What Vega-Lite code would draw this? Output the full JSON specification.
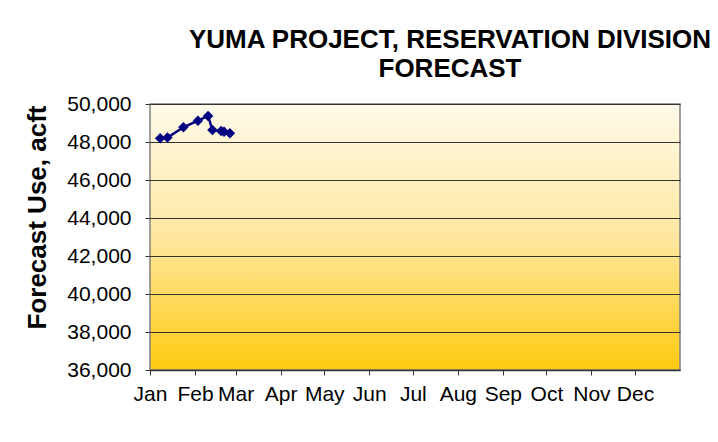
{
  "$schema": "https://vega.github.io/schema/vega-lite/v6.json",
  "autosize": "none",
  "width": 530,
  "height": 266,
  "padding": {"left": 150, "top": 104, "right": 38, "bottom": 72},
  "background": "white",
  "title": {
    "text": ["YUMA PROJECT, RESERVATION DIVISION", "FORECAST"],
    "font": "Liberation Sans",
    "fontSize": 26,
    "fontWeight": "bold",
    "color": "black",
    "anchor": "middle",
    "dx": 35,
    "lineHeight": 29,
    "offset": 11
  },
  "config": {
    "view": {
      "stroke": "#808080",
      "strokeWidth": 1.5,
      "fill": {
        "gradient": "linear",
        "x1": 0, "y1": 0, "x2": 0, "y2": 1,
        "stops": [
          {"offset": 0, "color": "#FFFAEA"},
          {"offset": 0.5, "color": "#FFE7A0"},
          {"offset": 1, "color": "#FFCA10"}
        ]
      }
    },
    "axis": {
      "labelFont": "Liberation Sans",
      "titleFont": "Liberation Sans",
      "labelColor": "black",
      "titleColor": "black"
    }
  },
  "data": {
    "values": [
      {"date": "2009-01-08", "use": 48195},
      {"date": "2009-01-13", "use": 48240},
      {"date": "2009-01-24", "use": 48775},
      {"date": "2009-02-03", "use": 49120},
      {"date": "2009-02-10", "use": 49370},
      {"date": "2009-02-13", "use": 48630},
      {"date": "2009-02-19", "use": 48580},
      {"date": "2009-02-21", "use": 48545},
      {"date": "2009-02-25", "use": 48460}
    ]
  },
  "encoding": {
    "x": {
      "field": "date",
      "type": "temporal",
      "scale": {
        "type": "utc",
        "domain": [
          {"year": 2009, "month": 1, "date": 1, "utc": true},
          {"year": 2010, "month": 1, "date": 1, "utc": true}
        ]
      },
      "axis": {
        "title": null,
        "format": "%b",
        "values": [
          {"year": 2009, "month": 1, "date": 1, "utc": true},
          {"year": 2009, "month": 2, "date": 1, "utc": true},
          {"year": 2009, "month": 3, "date": 1, "utc": true},
          {"year": 2009, "month": 4, "date": 1, "utc": true},
          {"year": 2009, "month": 5, "date": 1, "utc": true},
          {"year": 2009, "month": 6, "date": 1, "utc": true},
          {"year": 2009, "month": 7, "date": 1, "utc": true},
          {"year": 2009, "month": 8, "date": 1, "utc": true},
          {"year": 2009, "month": 9, "date": 1, "utc": true},
          {"year": 2009, "month": 10, "date": 1, "utc": true},
          {"year": 2009, "month": 11, "date": 1, "utc": true},
          {"year": 2009, "month": 12, "date": 1, "utc": true}
        ],
        "grid": false,
        "labelFontSize": 21,
        "labelPadding": 8,
        "tickSize": 5,
        "tickColor": "#333333",
        "domainColor": "#333333",
        "domainWidth": 1.5,
        "labelOverlap": false,
        "labelFlush": false
      }
    },
    "y": {
      "field": "use",
      "type": "quantitative",
      "scale": {"domain": [36000, 50000], "nice": false, "zero": false},
      "axis": {
        "title": "Forecast Use, acft",
        "titleFontSize": 26,
        "titleFontWeight": "bold",
        "titlePadding": 16,
        "titleY": 113,
        "values": [36000, 38000, 40000, 42000, 44000, 46000, 48000, 50000],
        "format": ",d",
        "labelFontSize": 21,
        "labelPadding": 14,
        "tickSize": 5,
        "tickColor": "#333333",
        "domain": false,
        "grid": true,
        "gridColor": "#333333",
        "gridWidth": 1,
        "labelFlush": false,
        "labelOverlap": false
      }
    }
  },
  "layer": [
    {
      "mark": {"type": "line", "color": "#000080", "strokeWidth": 2.5}
    },
    {
      "mark": {"type": "point", "shape": "diamond", "filled": true, "color": "#000080", "size": 110, "opacity": 1}
    }
  ]
}
